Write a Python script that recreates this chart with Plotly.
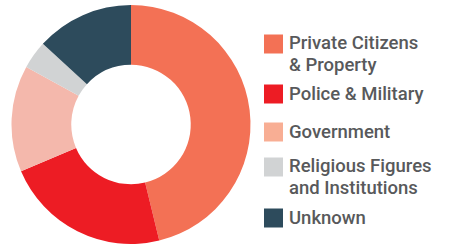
import plotly.graph_objects as go

labels = ["Private Citizens<br>& Property", "Police & Military", "Government",
          "Religious Figures<br>and Institutions", "Unknown"]
values = [46.2, 22.4, 14.4, 3.8, 13.2]
colors = ["#F37155", "#ED1C24", "#F4B8AC", "#D1D3D4", "#2D4B5C"]
legend_colors = ["#F37155", "#ED1C24", "#F8AE94", "#D1D3D4", "#2D4B5C"]

W, H = 451, 244
row_centers = [44, 94, 132, 167, 218]  # px from top, legend layout
sw = 19
sw_x = 264
txt_x = 288
line_h = 21.5

fig = go.Figure(go.Pie(
    labels=labels, values=values, hole=0.5, sort=False, direction="clockwise",
    rotation=0, marker=dict(colors=colors, line=dict(width=0)),
    textinfo="none", hoverinfo="label+percent", showlegend=False,
    domain=dict(x=[11 / W, 251 / W], y=[0, 1 - 5 / H]),
))

shapes, annots = [], []
for lab, col, yc in zip(labels, legend_colors, row_centers):
    shapes.append(dict(type="rect", xref="paper", yref="paper",
                       x0=sw_x / W, x1=(sw_x + sw) / W,
                       y0=1 - (yc + sw / 2) / H, y1=1 - (yc - sw / 2) / H,
                       fillcolor=col, line=dict(width=0)))
    lines = lab.split("<br>")
    y0 = yc - (1 if len(lines) > 1 else 0)
    for i, line in enumerate(lines):
        annots.append(dict(xref="paper", yref="paper", x=txt_x / W,
                           y=1 - (y0 + i * line_h) / H, xanchor="left", yanchor="middle",
                           text=line, showarrow=False, borderpad=0,
                           font=dict(family="Roboto", size=18.5, color="#58595B", weight=500)))

fig.update_layout(width=W, height=H, margin=dict(l=0, r=0, t=0, b=0),
                  paper_bgcolor="white", plot_bgcolor="white",
                  shapes=shapes, annotations=annots)
fig.write_html("out.html", config={"displayModeBar": False},
               post_script="document.body.style.margin='0';")
